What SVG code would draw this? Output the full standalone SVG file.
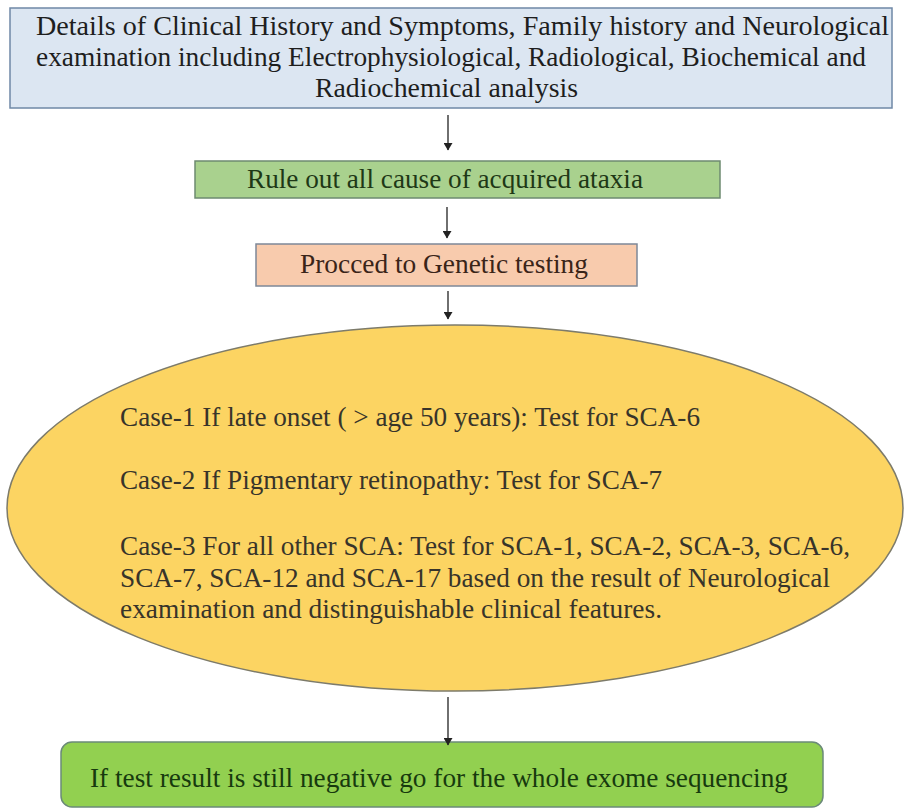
<svg xmlns="http://www.w3.org/2000/svg" width="906" height="810" viewBox="0 0 906 810">
<style>
.conn{stroke:#222;stroke-width:1.3;fill:none;}
</style>
<defs>
<marker id="ah" markerWidth="8" markerHeight="9" refX="7" refY="4.5" orient="auto" markerUnits="userSpaceOnUse">
<path d="M0,0 L7.5,4.5 L0,9 Z" fill="#222"/>
</marker>
</defs>
<rect width="906" height="810" fill="#ffffff"/>
<g id="n1">
<rect x="10" y="8" width="882" height="100" fill="#DCE6F2" stroke="#6F88A6" stroke-width="1.5"/>
<g font-family="Liberation Serif" font-size="28" fill="#1e1e1e">
<text x="36" y="35" textLength="853" lengthAdjust="spacingAndGlyphs">Details of Clinical History and Symptoms, Family history and Neurological</text>
<text x="36" y="66" textLength="830" lengthAdjust="spacingAndGlyphs">examination including Electrophysiological, Radiological, Biochemical and</text>
<text x="315" y="97" textLength="263" lengthAdjust="spacingAndGlyphs">Radiochemical analysis</text>
</g>
</g>
<g id="n2">
<rect x="195" y="161" width="525" height="37" fill="#A9D18E" stroke="#6E8A70" stroke-width="1.5"/>
<text font-family="Liberation Serif" font-size="27" x="247" y="188" fill="#1E3816" textLength="396" lengthAdjust="spacingAndGlyphs">Rule out all cause of acquired ataxia</text>
</g>
<g id="n3">
<rect x="256" y="244" width="381" height="42" fill="#F8CBAD" stroke="#7E8898" stroke-width="1.5"/>
<text font-family="Liberation Serif" font-size="27" x="300" y="273" fill="#3A2418" textLength="288" lengthAdjust="spacingAndGlyphs">Procced to Genetic testing</text>
</g>
<g id="n4">
<ellipse cx="455" cy="508" rx="448" ry="183" fill="#FCD462" stroke="#7D7B6A" stroke-width="1.5"/>
<g font-family="Liberation Serif" font-size="27" fill="#38342A">
<text x="120" y="426" textLength="580" lengthAdjust="spacingAndGlyphs">Case-1 If late onset ( &gt; age 50 years): Test for SCA-6</text>
<text x="120" y="489" textLength="542" lengthAdjust="spacingAndGlyphs">Case-2 If Pigmentary retinopathy: Test for SCA-7</text>
<text x="120" y="555" textLength="730" lengthAdjust="spacingAndGlyphs">Case-3 For all other SCA: Test for SCA-1, SCA-2, SCA-3, SCA-6,</text>
<text x="120" y="587" textLength="710" lengthAdjust="spacingAndGlyphs">SCA-7, SCA-12 and SCA-17 based on the result of Neurological</text>
<text x="120" y="618" textLength="542" lengthAdjust="spacingAndGlyphs">examination and distinguishable clinical features.</text>
</g>
</g>
<g id="n5">
<rect x="61" y="742" width="762" height="65" rx="11" ry="11" fill="#92D050" stroke="#6B8A78" stroke-width="1.5"/>
<text font-family="Liberation Serif" font-size="27" x="90" y="787" fill="#173A0E" textLength="698" lengthAdjust="spacingAndGlyphs">If test result is still negative go for the whole exome sequencing</text>
</g>
<g id="connectors">
<line class="conn" x1="448" y1="115" x2="448" y2="150" marker-end="url(#ah)"/>
<line class="conn" x1="447" y1="207" x2="447" y2="238" marker-end="url(#ah)"/>
<line class="conn" x1="448" y1="291" x2="448" y2="319" marker-end="url(#ah)"/>
<line class="conn" x1="448" y1="697" x2="448" y2="745" marker-end="url(#ah)"/>
</g>
</svg>
